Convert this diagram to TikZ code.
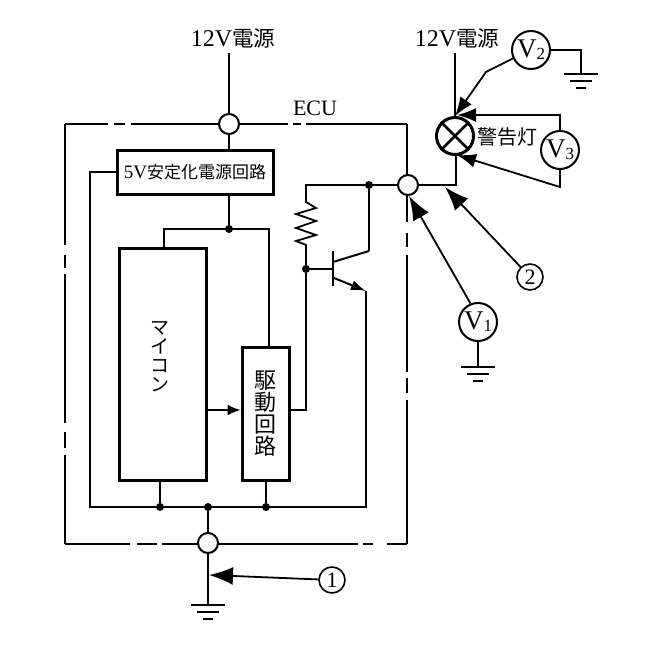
\documentclass[tikz,border=0pt]{standalone}
\usepackage{fontspec}
\setmainfont{Liberation Serif}
\newfontfamily\jp{Noto Sans CJK JP}
\usetikzlibrary{arrows.meta}
\tikzset{
	wire/.style={line width=1.8pt},
	shell/.style={line width=1.4pt},
	bigtip/.style={line width=1.8pt,-{Latex[length=24pt,width=18pt]}},
	midtip/.style={line width=1.8pt,-{Latex[length=19pt,width=14pt]}},
	pin/.style={circle,draw,fill=white,line width=2pt,minimum size=20pt,inner sep=0pt},
	dot/.style={circle,fill=black,minimum size=8pt,inner sep=0pt},
	block/.style={draw,line width=3pt,inner sep=0pt},
	meter/.style={circle,draw,line width=2pt,minimum size=38pt,inner sep=0pt,font=\fontsize{27}{29}\selectfont},
	tag/.style={circle,draw,line width=1.6pt,minimum size=26pt,inner sep=0pt,font=\fontsize{22}{24}\selectfont},
	lab/.style={inner sep=5pt,font=\fontsize{24}{26}\selectfont}
}
\begin{document}
\begin{tikzpicture}[x=1pt,y=-1pt]
	\useasboundingbox (0,0) rectangle (653,659);

	% ECU outline
	\foreach \ax/\ay/\bx/\by in {219/124/131/124,125/124/114/124,108/124/65/124,65/124/65/245,65/255/65/268,65/274/65/423,65/432/65/448,65/455/65/544,65/544/130/544,137/544/157/544,162/544/198/544,218/544/358/544,363/544/373/544,387/544/407/544,407/544/407/400,407/393/407/378,407/372/407/255,407/247/407/233,407/222/407/195,407/175/407/124,407/124/306/124,301/124/293/124,288/124/239/124}
		\draw[shell] (\ax,\ay) -- (\bx,\by);
	\node[font=\fontsize{22}{24}\selectfont] (ecu) at (315,108) {ECU};

	% pins
	\node[pin] (ptop) at (229,124) {};
	\node[pin] (pout) at (408,185) {};
	\node[pin] (pgnd) at (208,543) {};

	% blocks
	\node[block,minimum width=156pt,minimum height=44pt,font=\fontsize{19}{20}\selectfont] (psu) at (195,172) {5V{\jp\fontsize{17}{20}\selectfont 安定化電源回路}};
	\node[block,minimum width=87pt,minimum height=232pt] (mcu) at (162.5,364) {};
	\node[block,minimum width=47pt,minimum height=133pt,align=center,font=\jp\fontsize{22}{22}\selectfont] (drv) at (265.5,413.5) {駆\\動\\回\\路};
	\node[align=center,font=\jp\fontsize{19}{19}\selectfont,inner sep=0pt] (mcutext) at (160,357) {マ\\イ\\コ\\ン};

	% supply
	\node[lab] (lpow) at (233,38) {12V{\jp\fontsize{21.5}{26}\selectfont 電源}};
	\node[lab] (rpow) at (457,38) {12V{\jp\fontsize{21.5}{26}\selectfont 電源}};
	\draw[wire] (ptop |- lpow.south) -- (ptop);
	\draw[wire] (ptop) -- (ptop |- psu.north);

	% junctions
	\node[dot] (dvcc) at (229,229) {};
	\node[dot] (dtop) at (369,185) {};
	\node[dot] (dbase) at (306,269) {};
	\node[dot] (dl) at (160,507) {};
	\node[dot] (dm) at (208,507) {};
	\node[dot] (dr) at (266,507) {};

	% vcc net
	\coordinate (vl) at (164,229);
	\coordinate (vr) at (269,229);
	\draw[wire] (dvcc |- psu.south) -- (dvcc);
	\draw[wire] (vl |- mcu.north) -- (vl) -- (vr) -- (vr |- drv.north);

	% ground bus
	\coordinate (busin) at (90,172);
	\coordinate (busl) at (90,507);
	\coordinate (busr) at (366,507);
	\coordinate (emit) at (366,291);
	\draw[wire] (psu.west) -- (busin) -- (busl) -- (busr) -- (emit);
	\draw[wire] (dl |- mcu.south) -- (dl);
	\draw[wire] (dr |- drv.south) -- (dr);
	\draw[wire] (dm) -- (pgnd);
	\coordinate (gndl) at (208,605);
	\draw[wire] (pgnd) -- (gndl);

	% drive signal
	\coordinate (sig) at (224,410);
	\coordinate (drvout) at (306,410);
	\draw[wire,-{Latex[length=13pt,width=11pt]}] (mcu.east |- sig) -- (drv.west |- sig);
	\draw[wire] (drv.east |- drvout) -- (drvout) -- (dbase);

	% resistor
	\coordinate (rtop) at (306,185);
	\draw[wire] (pout) -- (rtop) -- (306,202) -- (316,208) -- (296,214) -- (316,221) -- (296,228) -- (316,235) -- (296,241) -- (306,245) -- (dbase);

	% transistor
	\coordinate (bar) at (333,269);
	\coordinate (coll) at (369,251);
	\draw[line width=2pt] (333,251) -- (333,286);
	\draw[wire] (dbase) -- (bar);
	\draw[line width=2pt] (333,262) -- (coll);
	\draw[wire] (coll) -- (dtop);
	\draw[line width=2pt,-{Latex[length=15pt,width=10pt]}] (334,278) -- (emit);

	% lamp
	\node[circle,draw,line width=3pt,minimum size=37pt,inner sep=0pt] (lamp) at (455,136) {};
	\draw[line width=2.6pt] (lamp.north west) -- (lamp.south east);
	\draw[line width=2.6pt] (lamp.north east) -- (lamp.south west);
	\node[font=\jp\fontsize{20}{22}\selectfont,inner sep=0pt] (warn) at (507,137) {警告灯};
	\coordinate (lampin) at (456,185);
	\draw[wire] (rpow.south -| lamp) -- (lamp.north);
	\draw[wire] (pout) -- (lampin) -- (lampin |- lamp.south);

	% meters
	\node[meter] (vone) at (478,322) {V\raisebox{-2pt}{\fontsize{17}{17}\selectfont 1}};
	\node[meter] (vtwo) at (531,50) {V\raisebox{-2pt}{\fontsize{17}{17}\selectfont 2}};
	\node[meter] (vthree) at (560,150) {V\raisebox{-2pt}{\fontsize{17}{17}\selectfont 3}};
	\coordinate (gndone) at (478,367);
	\coordinate (gndtwo) at (581,74);
	\coordinate (vbend) at (486,72);
	\coordinate (ttop) at (560,115);
	\coordinate (tbot) at (560,187);
	\coordinate (lamphi) at (457,115);
	\coordinate (lamplo) at (457,155);
	\draw[wire] (vone) -- (gndone);
	\draw[wire] (vtwo) -- (gndtwo |- vtwo) -- (gndtwo);
	\draw[bigtip] (vone.112) -- (409,196);
	\draw[midtip] (vtwo.205) -- (vbend) -- (lamp.north);
	\draw[midtip] (vthree.north) -- (ttop) -- (lamphi);
	\draw[midtip] (vthree.south) -- (tbot) -- (lamplo);

	% numbered tags
	\node[tag] (one) at (332,580) {1};
	\node[tag] (two) at (530,277) {2};
	\coordinate (tipone) at (209,575);
	\coordinate (tiptwo) at (445,187);
	\draw[bigtip] (one) -- (tipone);
	\draw[bigtip] (two) -- (tiptwo);

	% earth symbols
	\foreach \gx/\gy in {208/605,478/367,581/74} {
		\draw[line width=2pt] (\gx-17,\gy) -- (\gx+17,\gy);
		\draw[line width=2pt] (\gx-11,\gy+7) -- (\gx+11,\gy+7);
		\draw[line width=2pt] (\gx-5,\gy+14) -- (\gx+5,\gy+14);
	}

\end{tikzpicture}
\end{document}
